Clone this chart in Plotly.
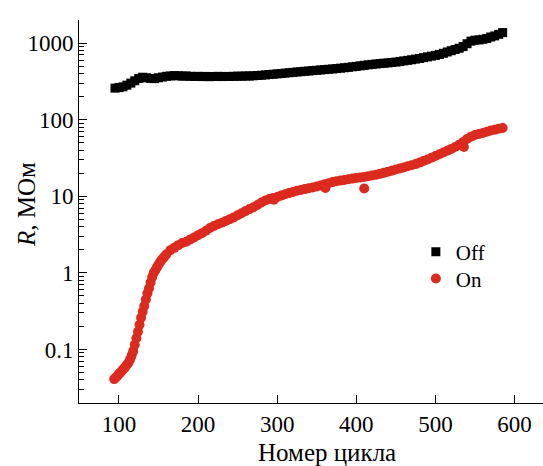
import plotly.graph_objects as go

# ---- data ----
off_cycle = list(range(95, 590, 5))
off_R = [258, 262, 268, 282, 300, 322, 345, 358, 352, 345,
         343, 352, 360, 368, 372, 376, 374, 370, 372, 368,
         366, 368, 365, 367, 364, 366, 368, 365, 367, 366,
         368, 370, 369, 372, 371, 374, 377, 380, 384, 388,
         392, 396, 400, 405, 410, 414, 419, 423, 428, 432,
         437, 441, 446, 450, 455, 459, 464, 470, 476, 482,
         490, 496, 504, 512, 520, 527, 533, 540, 546, 551,
         557, 565, 573, 585, 595, 605, 618, 630, 645, 660,
         675, 690, 710, 735, 765, 795, 825, 855, 900, 980,
         1060, 1090, 1100, 1120, 1150, 1200, 1240, 1300, 1370]

on_cycle = (list(range(94, 162, 2)) + list(range(165, 590, 5))
            + [296, 361, 410, 536])
on_R = [0.041, 0.043, 0.045, 0.048, 0.050, 0.053, 0.056, 0.059, 0.063, 0.067,
        0.074, 0.083, 0.095, 0.115, 0.14, 0.17, 0.21, 0.26, 0.31, 0.37,
        0.45, 0.54, 0.63, 0.75, 0.88, 1.0, 1.08, 1.18, 1.28, 1.38,
        1.48, 1.56, 1.65, 1.75,
        1.98, 2.12, 2.3, 2.45, 2.55, 2.72, 2.9, 3.1, 3.3, 3.55,
        3.85, 4.1, 4.3, 4.5, 4.75, 5.0, 5.3, 5.65, 6.0, 6.4,
        6.8, 7.2, 7.7, 8.3, 8.8, 9.2, 9.5, 9.8, 10.2, 10.6,
        11.0, 11.4, 11.8, 12.1, 12.4, 12.7, 13.0, 13.4, 13.8, 14.3,
        14.8, 15.3, 15.7, 16.0, 16.3, 16.7, 17.0, 17.3, 17.6, 17.9,
        18.3, 18.7, 19.1, 19.6, 20.2, 20.9, 21.6, 22.3, 23.0, 23.8,
        24.6, 25.4, 26.3, 27.5, 28.8, 30.2, 31.8, 33.5, 35.3, 37.2,
        39.2, 41.5, 44, 47, 51, 56, 60, 63, 65, 67,
        69.5, 72, 74, 76, 78,
        9.0, 12.8, 12.6, 44]

y_tick_vals = [0.1, 1, 10, 100, 1000]
y_tick_text = ["0.1", "1", "10", "100", "1000"]
x_tick_vals = [100, 200, 300, 400, 500, 600]

minor_vals = [m * 10.0 ** e for e in range(-2, 4) for m in range(2, 10)]

FONT = "Liberation Serif"
RED = "#dc2a1e"

fig = go.Figure()
fig.add_trace(go.Scatter(x=off_cycle, y=off_R, mode="markers", name="Off",
                         legend="legend",
                         marker=dict(symbol="square", size=9, color="black",
                                     line=dict(width=0))))
fig.add_trace(go.Scatter(x=on_cycle, y=on_R, mode="markers", name="On",
                         legend="legend2",
                         marker=dict(symbol="circle", size=10, color=RED,
                                     line=dict(width=0))))

leg_common = dict(xanchor="left", yanchor="middle", bgcolor="rgba(0,0,0,0)",
                  font=dict(family=FONT, size=21, color="black"),
                  itemsizing="trace", borderwidth=0)

fig.update_layout(
    width=543, height=466,
    margin=dict(l=79, r=0, t=20, b=63),
    paper_bgcolor="white", plot_bgcolor="white",
    font=dict(family=FONT, size=21, color="black"),
    showlegend=True,
    legend=dict(x=0.726, y=0.394, **leg_common),
    legend2=dict(x=0.726, y=0.324, **leg_common),
    xaxis=dict(range=[49.5, 636], showgrid=False, zeroline=False,
               showline=True, linecolor="black", linewidth=1,
               ticks="inside", ticklen=8, tickcolor="black", tickwidth=1,
               tickmode="array", tickvals=x_tick_vals,
               tickfont=dict(family=FONT, size=23)),
    yaxis=dict(type="log", range=[-1.699, 3.301], showgrid=False, zeroline=False,
               showline=True, linecolor="black", linewidth=1,
               ticks="inside", ticklen=8, tickcolor="black", tickwidth=1,
               tickmode="array", tickvals=y_tick_vals, ticktext=y_tick_text,
               tickfont=dict(family=FONT, size=23),
               minor=dict(ticks="inside", ticklen=5, tickcolor="black",
                          tickwidth=1, tickmode="array", tickvals=minor_vals,
                          showgrid=False)),
    annotations=[
        dict(text="Номер цикла", xref="paper", yref="paper", x=0.534, y=-0.128,
             xanchor="center", yanchor="middle", showarrow=False,
             font=dict(family=FONT, size=25)),
        dict(text="<i>R</i>, МОм", xref="paper", yref="paper", x=-0.112, y=0.517,
             xanchor="center", yanchor="middle", textangle=-90, showarrow=False,
             font=dict(family=FONT, size=25)),
    ],
)

fig.write_html("out.html")
